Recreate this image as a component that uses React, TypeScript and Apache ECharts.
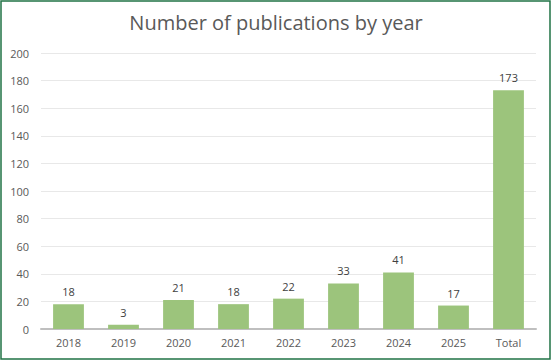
import React, { useEffect, useRef } from "react";
import * as echarts from "echarts";

const categories = ["2018", "2019", "2020", "2021", "2022", "2023", "2024", "2025", "Total"];
const counts = [18, 3, 21, 18, 22, 33, 41, 17, 173];
const yTicks = { min: 0, max: 200, interval: 20 };

export default function App() {
  const ref = useRef<HTMLDivElement>(null);
  useEffect(() => {
    if (!ref.current) return;
    const chart = echarts.init(ref.current, undefined, { renderer: "svg" });
    chart.setOption({
      animation: false,
      backgroundColor: "#ffffff",
      title: {
        text: "Number of publications by year",
        left: "center",
        top: 7,
        textStyle: { fontFamily: "Open Sans", fontSize: 20, fontWeight: "normal", color: "#595959" },
      },
      grid: { left: 41, right: 16, top: 53, bottom: 32 },
      xAxis: {
        type: "category",
        data: categories,
        axisLine: { lineStyle: { color: "#bfbfbf", width: 2 } },
        axisTick: { show: false },
        axisLabel: { color: "#595959", fontFamily: "Open Sans", fontSize: 11, margin: 8 },
      },
      yAxis: {
        type: "value",
        min: yTicks.min,
        max: yTicks.max,
        interval: yTicks.interval,
        axisLine: { show: false },
        axisTick: { show: false },
        splitLine: { lineStyle: { color: "#e8e8e8", width: 1 } },
        axisLabel: { color: "#595959", fontFamily: "Open Sans", fontSize: 11, margin: 12 },
      },
      series: [
        {
          type: "bar",
          data: counts,
          barCategoryGap: "44%",
          itemStyle: { color: "#9cc47c" },
          label: {
            show: true,
            position: "top",
            distance: 7,
            color: "#404040",
            fontFamily: "Open Sans",
            fontSize: 11,
          },
        },
      ],
      graphic: [
        {
          type: "rect",
          shape: { x: 1, y: 1, width: 549, height: 358 },
          style: { fill: "none", stroke: "#217346", lineWidth: 1.5 },
          silent: true,
        },
      ],
    });
    return () => chart.dispose();
  }, []);
  return (
    <div
      ref={ref}
      style={{ position: "fixed", left: 0, top: 0, width: 552, height: 361 }}
    />
  );
}
